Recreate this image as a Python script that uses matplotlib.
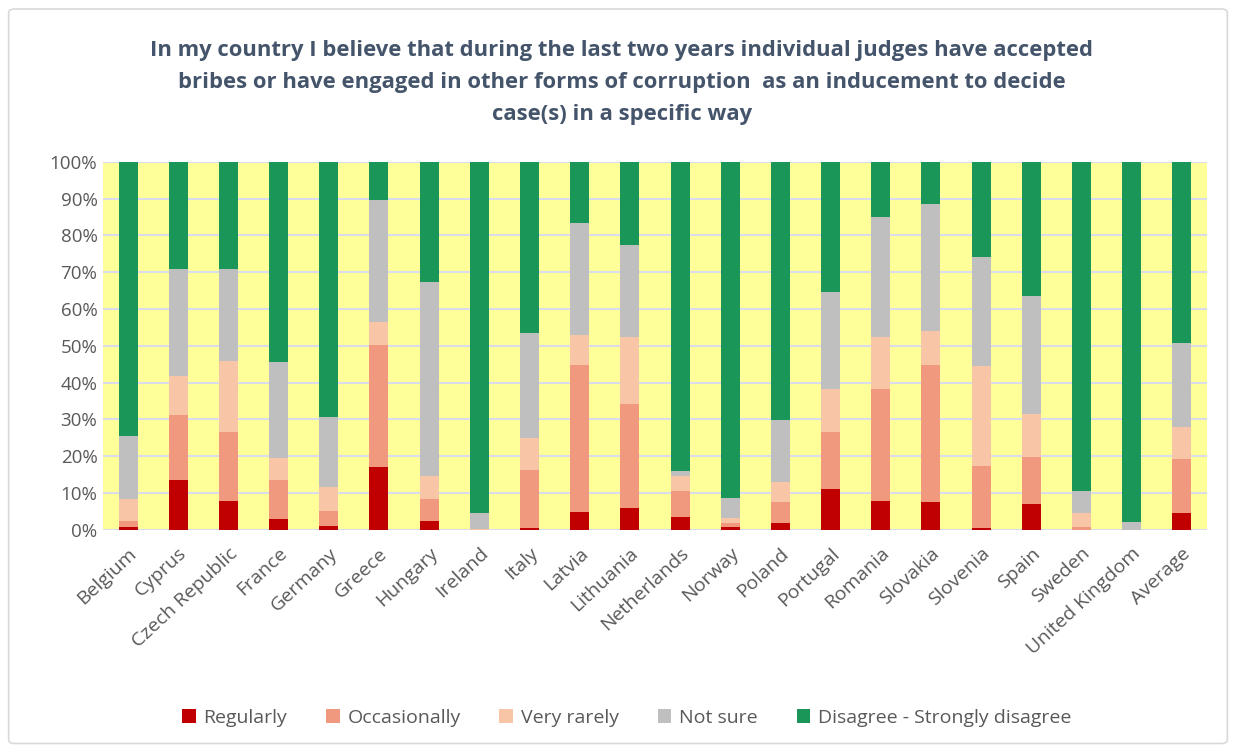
import numpy as np
import matplotlib.pyplot as plt
from matplotlib.patches import FancyBboxPatch
from matplotlib.transforms import ScaledTranslation

plt.rcParams['font.family'] = ['Open Sans', 'DejaVu Sans']

countries = ['Belgium', 'Cyprus', 'Czech Republic', 'France', 'Germany', 'Greece',
             'Hungary', 'Ireland', 'Italy', 'Latvia', 'Lithuania', 'Netherlands',
             'Norway', 'Poland', 'Portugal', 'Romania', 'Slovakia', 'Slovenia',
             'Spain', 'Sweden', 'United Kingdom', 'Average']

regularly = [0.9, 13.6, 8.0, 3.0, 1.2, 17.0, 2.5, 0.0, 0.5, 5.0, 5.9, 3.6,
             0.9, 1.8, 11.1, 8.0, 7.7, 0.5, 7.1, 0.0, 0.0, 4.7]
occasionally = [1.6, 17.6, 18.7, 10.6, 4.0, 33.3, 5.9, 0.0, 15.8, 39.8, 28.2, 7.1,
                0.9, 5.9, 15.6, 30.3, 37.1, 16.9, 12.6, 0.7, 0.0, 14.5]
very_rarely = [6.0, 10.6, 19.3, 5.9, 6.6, 6.1, 6.3, 0.2, 8.8, 8.2, 18.2, 4.0,
               1.4, 5.4, 11.6, 14.2, 9.3, 27.1, 11.7, 3.8, 0.0, 8.7]
not_sure = [17.1, 29.1, 24.9, 26.0, 18.8, 33.2, 52.7, 4.3, 28.5, 30.3, 25.1, 1.4,
            5.4, 16.8, 26.4, 32.6, 34.5, 29.5, 32.2, 6.2, 2.3, 23.0]
disagree = [74.4, 29.1, 29.1, 54.5, 69.4, 10.4, 32.6, 95.5, 46.4, 16.7, 22.6, 83.9,
            91.4, 70.1, 35.3, 14.9, 11.4, 26.0, 36.4, 89.3, 97.7, 49.1]

series = [('Regularly', regularly, '#C00000'),
          ('Occasionally', occasionally, '#F0997F'),
          ('Very rarely', very_rarely, '#F8C6A6'),
          ('Not sure', not_sure, '#BFBFBF'),
          ('Disagree - Strongly disagree', disagree, '#1B9659')]

fig = plt.figure(figsize=(12.36, 7.51), dpi=100)
ax = fig.add_axes([0.0833, 0.2943, 0.8932, 0.4904])
ax.set_facecolor('#FFFF99')

x = np.arange(len(countries))
bottom = np.zeros(len(countries))
for name, vals, col in series:
    v = np.array(vals)
    ax.bar(x, v, 0.38, bottom=bottom, color=col, label=name, zorder=3)
    bottom += v

ax.set_xlim(-0.5, len(countries) - 0.5)
ax.set_ylim(0, 100)
ax.set_yticks(np.arange(0, 101, 10))
ax.set_yticklabels([f'{t}%' for t in range(0, 101, 10)])
ax.yaxis.grid(True, color='#D9DCEB', linewidth=1.5, zorder=0)
ax.set_axisbelow(True)
for s in ax.spines.values():
    s.set_visible(False)
ax.tick_params(axis='y', length=0, labelsize=13.5, labelcolor='#595959', pad=4)
ax.tick_params(axis='x', length=0, labelsize=14, labelcolor='#595959', pad=15)
ax.set_xticks(x)
ax.set_xticklabels(countries, rotation=43, ha='right', va='center', rotation_mode='anchor')
offset = ScaledTranslation(6 / 100, 0, fig.dpi_scale_trans)
for lab in ax.get_xticklabels():
    lab.set_transform(lab.get_transform() + offset)

fig.text(0.503, 0.947,
         'In my country I believe that during the last two years individual judges have accepted\n'
         'bribes or have engaged in other forms of corruption  as an inducement to decide\n'
         'case(s) in a specific way',
         ha='center', va='top', fontsize=15.8, fontweight='bold', color='#44546A',
         linespacing=1.7)

leg = fig.legend(loc='center', bbox_to_anchor=(0.507, 0.044), ncol=5, frameon=False,
                 fontsize=14, handlelength=0.7, handleheight=0.7, columnspacing=2.0,
                 handletextpad=0.4)
for t in leg.get_texts():
    t.set_color('#595959')

fig.patches.append(FancyBboxPatch((0.007, 0.01), 0.986, 0.978, boxstyle='round,pad=0,rounding_size=0.005',
                                  transform=fig.transFigure, fill=False, edgecolor='#D9D9D9', linewidth=1.2))

fig.savefig('out.png', dpi=100)
